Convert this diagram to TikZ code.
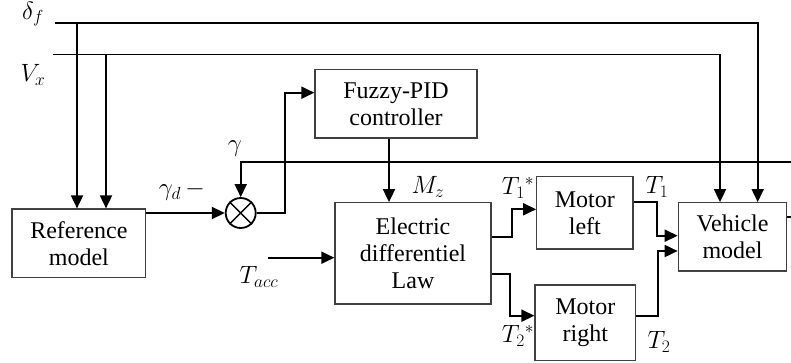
\documentclass[tikz,border=0pt]{standalone}
\RequirePackage{fix-cm}
\usepackage{fontspec}
\setmainfont{Liberation Serif}
\newfontfamily\tnr{Liberation Serif}
\usetikzlibrary{arrows.meta}
\begin{document}
\begin{tikzpicture}[x=1pt,y=-1pt,
  blk/.style={draw=black!75, line width=1.3pt, align=center, font=\tnr\fontsize{24}{27}\selectfont, inner sep=0pt},
  conn/.style={line width=1.8pt},
  arr/.style={conn,-{Triangle[length=13pt,width=12pt]}},
  lbl/.style={font=\fontsize{25}{27}\selectfont, inner sep=0pt}]
\useasboundingbox (0,0) rectangle (791,363);

% blocks
\node[blk, minimum width=133.7pt, minimum height=68.7pt] (ref) at (78.9,243.4) {Reference\\model};
\node[blk, minimum width=162pt, minimum height=68.5pt] (fuz) at (396,103.8) {Fuzzy-PID\\controller};
\node[blk, minimum width=156pt, minimum height=101.3pt] (el) at (413,253.4) {Electric\\differentiel\\Law};
\node[blk, minimum width=96.3pt, minimum height=72.3pt] (ml) at (584.9,212.9) {Motor\\left};
\node[blk, minimum width=100.7pt, minimum height=75.7pt] (mr) at (585.4,322.9) {Motor\\right};
\node[blk, minimum width=108.4pt, minimum height=68.3pt] (veh) at (732.5,236.9) {Vehicle\\model};
\node[draw, circle, line width=1.8pt, minimum size=30pt, inner sep=0pt] (sum) at (240.7,213) {};
\draw[line width=1.4pt] (sum.north west) -- (sum.south east) (sum.north east) -- (sum.south west);

% labels
\node[lbl] (ldf) at (33,14) {$\delta_f$};
\node[lbl] (lvx) at (33,75) {$V_x$};
\node[lbl] (lg) at (235,149) {$\gamma$};
\node[lbl] (lgd) at (170,193) {$\gamma_d$};
\node[lbl] (lmin) at (195,189) {$-$};
\node[lbl] (lta) at (259,277) {$T_{acc}$};
\node[lbl] (lmz) at (428,187) {$M_z$};
\node[lbl] (lt1s) at (518,188) {$T_1{}^{*}$};
\node[lbl] (lt2s) at (518,336) {$T_2{}^{*}$};
\node[lbl] (lt1) at (657,187) {$T_1$};
\node[lbl] (lt2) at (659,342) {$T_2$};

% coordinates
\coordinate (dfs) at (55,22.7);
\coordinate (dfc) at (757.7,22.7);
\coordinate (dfb) at (77,22.7);
\coordinate (vxs) at (53,54.5);
\coordinate (vxc) at (720,54.5);
\coordinate (vxb) at (106,54.5);
\coordinate (ge) at (791,162);
\coordinate (gc) at (240.7,162);
\coordinate (sf) at (285,92.7);
\coordinate (mz) at (389,0);
\coordinate (ta) at (268,257.7);
\coordinate (e1) at (511.7,237.3);
\coordinate (e1t) at (511.7,209.3);
\coordinate (e2) at (510,274);
\coordinate (e2b) at (510,315.7);
\coordinate (m1) at (656.7,202.3);
\coordinate (m1b) at (656.7,235.7);
\coordinate (m2) at (657.7,315.7);
\coordinate (m2t) at (657.7,251);
\coordinate (vo) at (791,216.7);

% connectors
\draw[arr] (dfs) -- (dfc) -- (dfc |- veh.north);
\draw[arr] (dfb) -- (dfb |- ref.north);
\draw[arr] (vxs) -- (vxc) -- (vxc |- veh.north);
\draw[arr] (vxb) -- (vxb |- ref.north);
\draw[arr] (ref.east |- sum) -- (sum.west);
\draw[arr] (ge) -- (gc) -- (sum.north);
\draw[arr] (sum.east) -| (sf) -- (sf -| fuz.west);
\draw[arr] (fuz.south -| mz) -- (el.north -| mz);
\draw[arr] (ta) -- (ta -| el.west);
\draw[arr] (e1 -| el.east) -- (e1) -- (e1t) -- (e1t -| ml.west);
\draw[arr] (e2 -| el.east) -- (e2) -- (e2b) -- (e2b -| mr.west);
\draw[arr] (m1 -| ml.east) -- (m1) -- (m1b) -- (m1b -| veh.west);
\draw[arr] (m2 -| mr.east) -- (m2) -- (m2t) -- (m2t -| veh.west);
\draw[conn] (veh.east |- vo) -- (vo);
\end{tikzpicture}
\end{document}
